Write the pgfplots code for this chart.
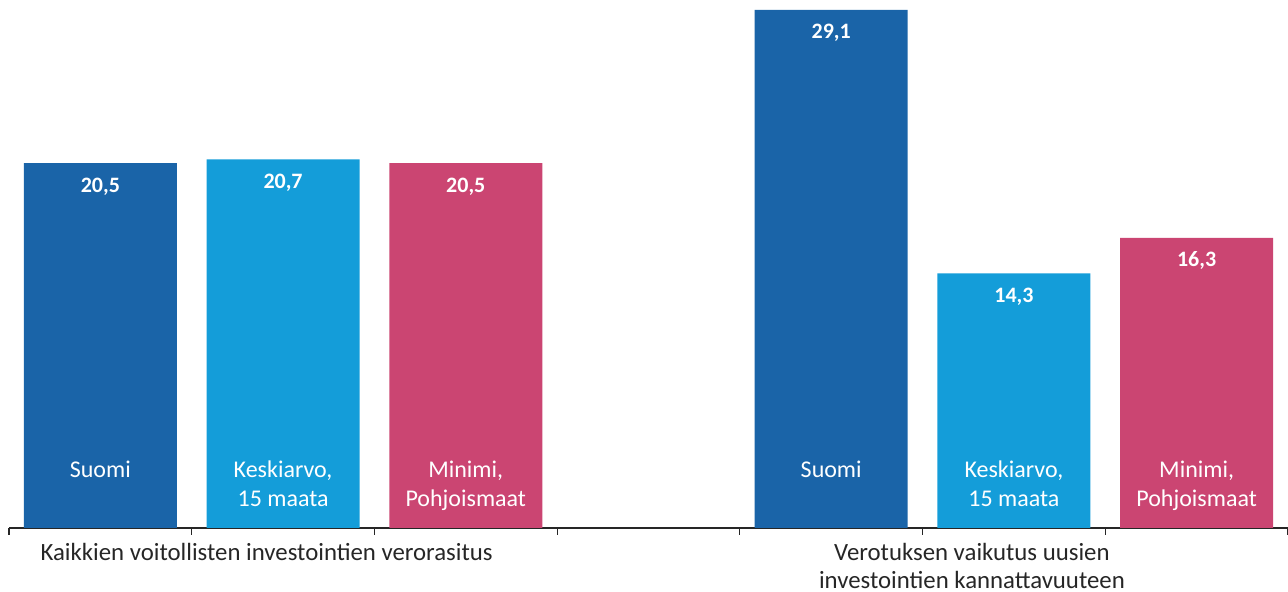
\documentclass[border=0pt]{standalone}
\usepackage{pgfplots}
\pgfplotsset{compat=1.18}
\usepackage{fontspec}
\setmainfont{Carlito}
\definecolor{cDark}{HTML}{1A64A8}
\definecolor{cLight}{HTML}{149DD9}
\definecolor{cPink}{HTML}{CB4572}
\definecolor{txt}{HTML}{262626}
\begin{document}
\begin{tikzpicture}
\begin{axis}[
  at={(4.5pt,32pt)}, anchor=south west,
  scale only axis, width=639.5pt, height=264pt,
  xmin=-0.5, xmax=6.5, ymin=0, ymax=29.66,
  axis y line=none, axis x line*=bottom,
  x axis line style={line width=0.6pt, color=txt, -},
  xtick={-0.5,0.5,1.5,2.5,3.5,4.5,5.5,6.5}, xticklabels={},
  tick align=outside, major tick length=3.5pt,
  x tick style={line width=0.6pt, color=txt},
  ybar, bar width=76.5pt, bar shift=0pt,
  clip=false,
  nodes near coords,
  every node near coord/.append style={anchor=base, yshift=-14.5pt, font=\fontsize{11}{13}\selectfont\bfseries, text=white},
  /pgf/number format/.cd, use comma, fixed, fixed zerofill, precision=1, assume math mode=true,
]
\addplot[fill=cDark, draw=none] coordinates {(0,20.5) (4,29.1)};
\addplot[fill=cLight, draw=none] coordinates {(1,20.7) (5,14.3)};
\addplot[fill=cPink, draw=none] coordinates {(2,20.5) (6,16.3)};

\begin{scope}[every node/.style={anchor=base, text=white, font=\fontsize{12}{14}\selectfont, inner sep=0pt}]
\node at (axis cs:0,2.81) {Suomi};
\node at (axis cs:1,2.81) {Keskiarvo,};
\node at (axis cs:1,1.20) {15 maata};
\node at (axis cs:2,2.81) {Minimi,};
\node at (axis cs:2,1.20) {Pohjoismaat};
\node at (axis cs:4,2.81) {Suomi};
\node at (axis cs:5,2.81) {Keskiarvo,};
\node at (axis cs:5,1.20) {15 maata};
\node at (axis cs:6,2.81) {Minimi,};
\node at (axis cs:6,1.20) {Pohjoismaat};
\end{scope}
\begin{scope}[every node/.style={anchor=base, text=txt, font=\fontsize{12.4}{14}\selectfont, inner sep=0pt}]
\node at (axis cs:0.91,-1.80) {Kaikkien voitollisten investointien verorasitus};
\node at (axis cs:4.77,-1.80) {Verotuksen vaikutus uusien};
\node at (axis cs:4.77,-3.38) {investointien kannattavuuteen};
\end{scope}
\end{axis}
\pgfresetboundingbox
\path[use as bounding box] (0,0) rectangle (644pt,296pt);
\end{tikzpicture}
\end{document}
